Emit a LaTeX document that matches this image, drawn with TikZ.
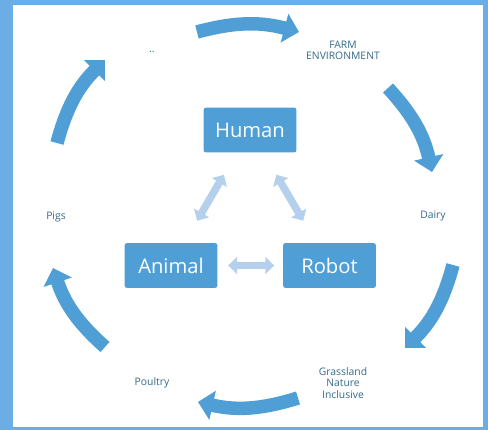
\documentclass[tikz,border=0pt]{standalone}
\usepackage{fontspec}
\setmainfont{Open Sans}
\usepackage{tikz}
\usetikzlibrary{arrows.meta}
\definecolor{frameblue}{RGB}{107,174,229}
\definecolor{ringblue}{RGB}{79,158,214}
\definecolor{paleblue}{RGB}{181,208,236}
\definecolor{labelblue}{RGB}{52,106,140}

\begin{document}
\begin{tikzpicture}[x=0.02cm,y=0.02cm,thick]
\tikzstyle{box}=[rectangle,fill=ringblue,rounded corners=1.5pt,minimum width=1.86cm,minimum height=0.9cm,text=white,font=\fontsize{11.5}{13}\selectfont]
\tikzstyle{lbl}=[align=center,text=labelblue,font=\fontsize{5.9}{6.4}\selectfont]
\tikzstyle{ring}=[draw=ringblue,line width=0.27cm,-{Triangle[width=0.58cm,length=0.3cm]},bend left=15]
\tikzstyle{link}=[draw=paleblue,line width=0.15cm,{Triangle[width=0.34cm,length=0.18cm]}-{Triangle[width=0.34cm,length=0.18cm]}]
% frame
\fill[frameblue](0,0)rectangle(488,430);
\fill[white](13,3)rectangle(483,425);
% centre boxes
\node(human)at(250,300)[box]{Human};
\node(animal)at(171,164.5)[box]{Animal};
\node(robot)at(329.5,164.5)[box]{Robot};
\draw[link,shorten <=0.5cm,shorten >=0.5cm](human)--(animal);
\draw[link,shorten <=0.5cm,shorten >=0.5cm](human)--(robot);
\draw[link,shorten <=0.2cm,shorten >=0.16cm](animal)--(robot);
% labels round the ring
\node(dots)at(152,378)[lbl]{..};
\node(farm)at(343,380)[lbl]{FARM\\ENVIRONMENT};
\node(dairy)at(433,214)[lbl]{Dairy};
\node(grass)at(343,47)[lbl]{Grassland\\Nature\\Inclusive};
\node(poultry)at(152,47)[lbl]{Poultry};
\node(pigs)at(56,213)[lbl]{Pigs};
% ring arrows
\draw[ring](197,398)to(299,398);
\draw[ring](388,342)to(432,258);
\draw[ring](453,165)to(405,82);
\draw[ring](298,32)to(198,28);
\draw[ring](105,83)to(53,162);
\draw[ring](57,287)to(105,370);
\end{tikzpicture}
\end{document}
